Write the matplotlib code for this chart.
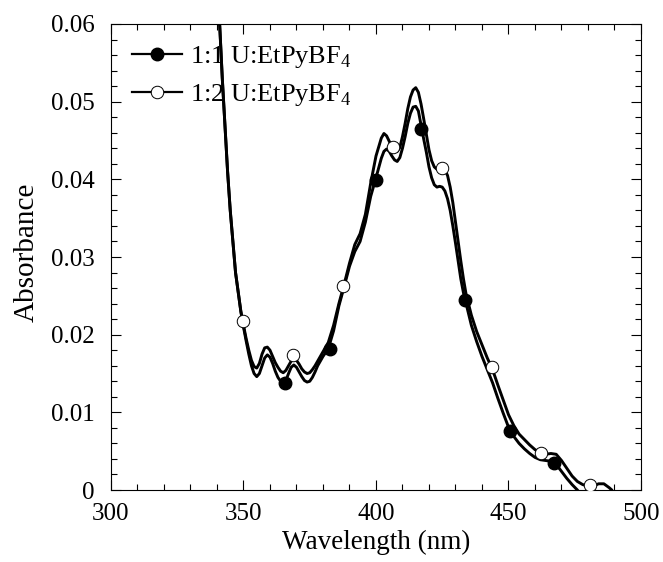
import numpy as np
import matplotlib
matplotlib.use("Agg")
import matplotlib.pyplot as plt
from matplotlib.lines import Line2D
from matplotlib.ticker import MultipleLocator

# ---- data ----
wl_12 = [338, 340, 341, 342, 343, 344, 345, 346, 347, 348, 349, 350, 351, 352, 353, 354, 355,
         356, 357, 358, 359, 360, 361, 362, 363, 364, 365, 366, 367, 368, 369, 370, 371, 372,
         373, 374, 375, 376, 377, 378, 379, 380, 381, 382, 384, 386, 388, 390, 392, 394, 396,
         398, 400, 402, 403, 404, 405, 406, 407, 408, 409, 410, 411, 412, 413, 414, 415, 416,
         417, 418, 419, 420, 421, 422, 423, 424, 425, 426, 427, 428, 429, 430, 431, 432, 433,
         434, 436, 438, 440, 442, 444, 446, 448, 450, 452, 454, 456, 458, 460, 462, 464, 466,
         468, 470, 472, 474, 476, 478, 480, 482, 484, 486, 488, 489, 490]
abs_12 = [0.080, 0.066, 0.060, 0.053, 0.047, 0.041, 0.036, 0.032, 0.028, 0.0255, 0.023, 0.0212,
          0.0195, 0.0180, 0.0167, 0.0159, 0.0157, 0.0163, 0.0175, 0.0183, 0.0184, 0.0180, 0.0172,
          0.0164, 0.0158, 0.0153, 0.0151, 0.0154, 0.0160, 0.0166, 0.0169, 0.0167, 0.0162, 0.0156,
          0.0152, 0.0150, 0.0151, 0.0155, 0.0160, 0.0166, 0.0172, 0.0178, 0.0184, 0.0190, 0.0212,
          0.0240, 0.0265, 0.0292, 0.0316, 0.0330, 0.0355, 0.0395, 0.0430, 0.0453, 0.0459, 0.0456,
          0.0449, 0.0442, 0.0437, 0.0436, 0.0441, 0.0455, 0.0472, 0.0491, 0.0506, 0.0515, 0.0518,
          0.0512, 0.0497, 0.0478, 0.0458, 0.0438, 0.0424, 0.0416, 0.0413, 0.0414, 0.0414, 0.0412,
          0.0405, 0.0390, 0.0370, 0.0345, 0.0320, 0.0295, 0.0272, 0.0252, 0.0225, 0.0204, 0.0187,
          0.0170, 0.0155, 0.0135, 0.0116, 0.0097, 0.0083, 0.0072, 0.0065, 0.0058, 0.0052, 0.0048,
          0.0046, 0.0047, 0.0046, 0.0038, 0.0028, 0.0018, 0.0011, 0.0007, 0.0005, 0.0005, 0.0008,
          0.0008, 0.0003, 0.0000, -0.0010]

wl_11 = [338, 340, 341, 342, 343, 344, 345, 346, 347, 348, 349, 350, 351, 352, 353, 354, 355,
         356, 357, 358, 359, 360, 361, 362, 363, 364, 365, 366, 367, 368, 369, 370, 371, 372,
         373, 374, 375, 376, 377, 378, 379, 380, 382, 384, 386, 388, 390, 392, 394, 396, 398,
         400, 402, 403, 404, 405, 406, 407, 408, 409, 410, 411, 412, 413, 414, 415, 416, 417,
         418, 419, 420, 421, 422, 423, 424, 425, 426, 427, 428, 429, 430, 431, 432, 433, 434,
         436, 438, 440, 442, 444, 446, 448, 450, 452, 454, 456, 458, 460, 462, 464, 466, 468,
         470, 472, 474, 476, 477]
abs_11 = [0.080, 0.066, 0.060, 0.053, 0.047, 0.041, 0.036, 0.032, 0.028, 0.0255, 0.023, 0.0210,
          0.0192, 0.0175, 0.0160, 0.0150, 0.0146, 0.0150, 0.0160, 0.0170, 0.0174, 0.0171, 0.0163,
          0.0153, 0.0145, 0.0140, 0.0138, 0.0141, 0.0150, 0.0158, 0.0161, 0.0158, 0.0152, 0.0146,
          0.0141, 0.0139, 0.0140, 0.0145, 0.0152, 0.0160, 0.0166, 0.0172, 0.0182, 0.0205, 0.0237,
          0.0262, 0.0288, 0.0307, 0.0320, 0.0345, 0.0378, 0.0402, 0.0427, 0.0436, 0.0439, 0.0436,
          0.0430, 0.0425, 0.0423, 0.0428, 0.0440, 0.0455, 0.0472, 0.0485, 0.0493, 0.0494, 0.0488,
          0.0470, 0.0452, 0.0435, 0.0416, 0.0402, 0.0393, 0.0390, 0.0391, 0.0390, 0.0385, 0.0375,
          0.0360, 0.0340, 0.0318, 0.0295, 0.0272, 0.0254, 0.0240, 0.0212, 0.0191, 0.0172, 0.0155,
          0.0138, 0.0118, 0.0099, 0.0081, 0.0069, 0.0060, 0.0053, 0.0047, 0.0042, 0.0039, 0.0038,
          0.0037, 0.0033, 0.0024, 0.0015, 0.0007, 0.0000, -0.0005]

mk_wl_11 = [365.7, 382.6, 400.0, 416.8, 433.6, 450.6, 467.2]
mk_abs_11 = [0.0138, 0.0181, 0.0399, 0.0465, 0.0244, 0.0076, 0.0035]
mk_wl_12 = [349.8, 368.8, 387.7, 406.5, 425.0, 443.7, 462.1, 480.8]
mk_abs_12 = [0.0217, 0.0174, 0.0263, 0.0442, 0.0414, 0.0158, 0.0048, 0.0006]

labels = ["1:1 U:EtPyBF$_4$", "1:2 U:EtPyBF$_4$"]
x_ticks = [300, 350, 400, 450, 500]
y_ticks = [0, 0.01, 0.02, 0.03, 0.04, 0.05, 0.06]
y_ticklabels = ["0", "0.01", "0.02", "0.03", "0.04", "0.05", "0.06"]

plt.rcParams['font.family'] = ['Liberation Serif', 'DejaVu Serif']
plt.rcParams['mathtext.fontset'] = 'custom'
plt.rcParams['mathtext.rm'] = 'Liberation Serif'

fig = plt.figure(figsize=(6.63, 5.62), dpi=100)
ax = fig.add_axes([0.1674, 0.1281, 0.7994, 0.8292])

ax.plot(wl_11, abs_11, color='black', lw=2.1, solid_joinstyle='round', zorder=2)
ax.plot(wl_12, abs_12, color='black', lw=2.1, solid_joinstyle='round', zorder=2)
ax.plot(mk_wl_11, mk_abs_11, ls='none', marker='o', ms=9, mfc='black', mec='black', zorder=3)
ax.plot(mk_wl_12, mk_abs_12, ls='none', marker='o', ms=9, mfc='white', mec='black', mew=0.7, zorder=4)

ax.set_xlim(300, 500)
ax.set_ylim(0, 0.06)
ax.set_xticks(x_ticks)
ax.set_xticklabels([str(t) for t in x_ticks])
ax.set_yticks(y_ticks)
ax.set_yticklabels(y_ticklabels)
ax.xaxis.set_minor_locator(MultipleLocator(10))
ax.yaxis.set_minor_locator(MultipleLocator(0.002))
ax.tick_params(which='both', direction='in', top=True, right=True, labelsize=18, width=0.8)
ax.tick_params(which='major', length=7)
ax.tick_params(axis='y', which='major', pad=12)
ax.tick_params(axis='x', which='major', pad=9)
ax.tick_params(which='minor', length=4)
for s in ax.spines.values():
    s.set_linewidth(0.8)

ax.set_xlabel("Wavelength (nm)", fontsize=19.5)
ax.xaxis.set_label_coords(0.5, -0.085)
ax.set_ylabel("Absorbance", fontsize=21)
ax.yaxis.set_label_coords(-0.134, 0.51)

handles = [Line2D([], [], color='black', lw=1.6, marker='o', ms=9, mfc='black', mec='black'),
           Line2D([], [], color='black', lw=1.6, marker='o', ms=9, mfc='white', mec='black', mew=0.7)]
ax.legend(handles, labels, loc='upper left', bbox_to_anchor=(0.04, 0.957), frameon=False,
          fontsize=19, handlelength=1.9, handletextpad=0.3, labelspacing=0.47,
          borderaxespad=0.0, borderpad=0.0)

fig.savefig("out.png", dpi=100)
